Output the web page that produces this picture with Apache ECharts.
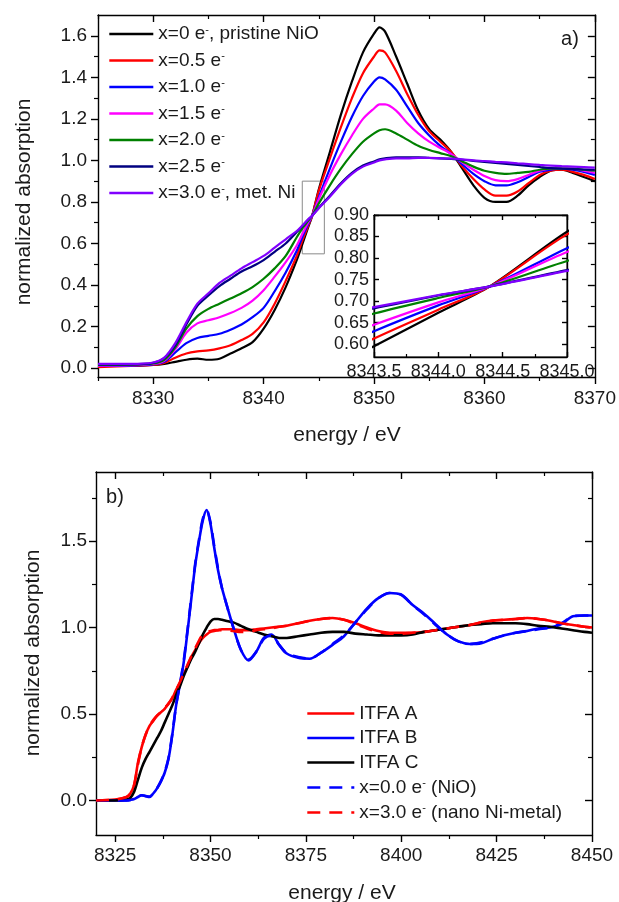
<!DOCTYPE html>
<html><head><meta charset="utf-8">
<script src="https://cdn.jsdelivr.net/npm/echarts/dist/echarts.min.js"></script>
<style>html,body{margin:0;padding:0;background:#fff}#c{width:619px;height:902px}</style>
</head><body><div id="c"></div>
<script>
// ---------- Panel a) data ----------
const energyA = [8325, 8328, 8330, 8331, 8332, 8333, 8334, 8335, 8336, 8337, 8338, 8339, 8340, 8341, 8342, 8343, 8343.5, 8344, 8344.4, 8345, 8346, 8347, 8348, 8349, 8350, 8350.5, 8351, 8352, 8353, 8354, 8355, 8356, 8357, 8358, 8359, 8360, 8361, 8362, 8363, 8364, 8365, 8366, 8367, 8368, 8369, 8370];
const absX00 = [0.012, 0.012, 0.015, 0.02, 0.03, 0.04, 0.045, 0.04, 0.045, 0.07, 0.095, 0.125, 0.19, 0.28, 0.39, 0.52, 0.595, 0.673, 0.734, 0.861, 1.04, 1.22, 1.38, 1.52, 1.61, 1.64, 1.62, 1.50, 1.37, 1.24, 1.15, 1.10, 1.04, 0.96, 0.88, 0.82, 0.80, 0.80, 0.83, 0.88, 0.92, 0.95, 0.955, 0.94, 0.92, 0.90];
const absX05 = [0.005, 0.01, 0.015, 0.025, 0.05, 0.07, 0.08, 0.085, 0.095, 0.11, 0.135, 0.165, 0.22, 0.31, 0.42, 0.54, 0.613, 0.68, 0.734, 0.855, 1.01, 1.16, 1.30, 1.42, 1.50, 1.53, 1.52, 1.43, 1.32, 1.22, 1.14, 1.09, 1.04, 0.97, 0.91, 0.86, 0.83, 0.83, 0.85, 0.89, 0.93, 0.95, 0.955, 0.945, 0.93, 0.91];
const absX10 = [0.01, 0.012, 0.018, 0.03, 0.075, 0.12, 0.145, 0.155, 0.165, 0.185, 0.21, 0.245, 0.29, 0.37, 0.46, 0.565, 0.630, 0.69, 0.734, 0.823, 0.96, 1.09, 1.21, 1.31, 1.38, 1.40, 1.39, 1.34, 1.26, 1.18, 1.12, 1.07, 1.03, 0.98, 0.935, 0.90, 0.88, 0.88, 0.895, 0.92, 0.945, 0.955, 0.96, 0.955, 0.945, 0.93];
const absX15 = [0.012, 0.014, 0.02, 0.035, 0.09, 0.17, 0.215, 0.23, 0.245, 0.265, 0.29, 0.325, 0.375, 0.44, 0.51, 0.59, 0.645, 0.697, 0.734, 0.814, 0.93, 1.03, 1.12, 1.20, 1.25, 1.27, 1.27, 1.24, 1.18, 1.13, 1.09, 1.06, 1.03, 0.99, 0.955, 0.925, 0.905, 0.90, 0.91, 0.93, 0.95, 0.96, 0.96, 0.96, 0.95, 0.94];
const absX20 = [0.015, 0.016, 0.022, 0.04, 0.10, 0.19, 0.25, 0.285, 0.31, 0.335, 0.36, 0.39, 0.43, 0.48, 0.54, 0.63, 0.671, 0.707, 0.734, 0.793, 0.88, 0.96, 1.03, 1.09, 1.13, 1.145, 1.15, 1.13, 1.10, 1.07, 1.05, 1.035, 1.02, 0.995, 0.97, 0.95, 0.94, 0.935, 0.94, 0.945, 0.955, 0.96, 0.96, 0.96, 0.955, 0.95];
const absX25 = [0.018, 0.018, 0.025, 0.048, 0.11, 0.21, 0.30, 0.35, 0.395, 0.43, 0.465, 0.49, 0.52, 0.56, 0.60, 0.655, 0.683, 0.713, 0.734, 0.772, 0.83, 0.89, 0.94, 0.975, 0.995, 1.005, 1.01, 1.015, 1.015, 1.015, 1.012, 1.01, 1.007, 1.003, 0.998, 0.993, 0.988, 0.983, 0.978, 0.973, 0.968, 0.963, 0.96, 0.958, 0.956, 0.955];
const absX30 = [0.02, 0.02, 0.027, 0.05, 0.12, 0.22, 0.31, 0.36, 0.41, 0.445, 0.48, 0.51, 0.54, 0.58, 0.62, 0.66, 0.686, 0.714, 0.734, 0.770, 0.825, 0.885, 0.935, 0.97, 0.99, 1.0, 1.005, 1.01, 1.01, 1.012, 1.012, 1.01, 1.008, 1.005, 1.0, 0.997, 0.993, 0.99, 0.986, 0.982, 0.978, 0.975, 0.972, 0.97, 0.968, 0.965];
const namesA = ['x=0 e⁻, pristine NiO', 'x=0.5 e⁻', 'x=1.0 e⁻', 'x=1.5 e⁻', 'x=2.0 e⁻', 'x=2.5 e⁻', 'x=3.0 e⁻, met. Ni'];
const colorsA = ['#000000', '#ff0000', '#0000ff', '#ff00ff', '#008000', '#000080', '#8000ff'];
const xTicksA = [8330, 8340, 8350, 8360, 8370];
const xMinorA = [8325, 8335, 8345, 8355, 8365];
const yTicksA = [0, 0.2, 0.4, 0.6, 0.8, 1.0, 1.2, 1.4, 1.6];
const yMinorA = [0.1, 0.3, 0.5, 0.7, 0.9, 1.1, 1.3, 1.5];
const insetXTicks = [8343.5, 8344.0, 8344.5, 8345.0];
const insetXMinor = [8343.75, 8344.25, 8344.75];
const insetYTicks = [0.60, 0.65, 0.70, 0.75, 0.80, 0.85, 0.90];
const zoomBoxX = [8343.5, 8345.5];
const zoomBoxY = [0.55, 0.90];

// ---------- Panel b) data ----------
const energyB = [8320, 8325, 8328, 8329, 8330, 8331, 8332, 8333, 8334, 8335, 8336, 8337, 8338, 8339, 8340, 8341, 8342, 8343, 8344, 8345, 8346, 8347, 8348, 8349, 8350, 8351, 8352, 8353, 8354, 8356, 8358, 8360, 8362, 8364, 8366, 8368, 8370, 8373, 8376, 8379, 8382, 8385, 8388, 8391, 8394, 8397, 8400, 8403, 8406, 8409, 8412, 8415, 8418, 8421, 8424, 8427, 8430, 8433, 8436, 8439, 8442, 8445, 8448, 8450];
const itfaA = [0, 0.005, 0.02, 0.04, 0.09, 0.22, 0.31, 0.38, 0.43, 0.46, 0.49, 0.51, 0.53, 0.56, 0.59, 0.64, 0.68, 0.73, 0.78, 0.83, 0.87, 0.91, 0.94, 0.96, 0.975, 0.98, 0.985, 0.99, 0.99, 0.99, 0.985, 0.985, 0.99, 0.995, 1.0, 1.005, 1.01, 1.025, 1.04, 1.05, 1.055, 1.045, 1.025, 1.0, 0.98, 0.97, 0.97, 0.97, 0.975, 0.985, 0.995, 1.005, 1.015, 1.03, 1.04, 1.045, 1.05, 1.055, 1.05, 1.04, 1.025, 1.015, 1.005, 1.0];
const itfaB = [0, 0, 0, 0.003, 0.008, 0.02, 0.03, 0.025, 0.02, 0.04, 0.07, 0.11, 0.16, 0.24, 0.38, 0.55, 0.67, 0.80, 0.98, 1.17, 1.36, 1.50, 1.62, 1.68, 1.60, 1.46, 1.33, 1.23, 1.15, 1.0, 0.87, 0.81, 0.86, 0.94, 0.96, 0.90, 0.85, 0.825, 0.82, 0.855, 0.90, 0.95, 1.03, 1.11, 1.17, 1.20, 1.19, 1.13, 1.08, 1.02, 0.96, 0.92, 0.905, 0.91, 0.935, 0.955, 0.97, 0.98, 0.995, 1.0, 1.02, 1.065, 1.07, 1.07];
const itfaC = [0, 0, 0.005, 0.015, 0.05, 0.12, 0.19, 0.24, 0.28, 0.32, 0.36, 0.40, 0.45, 0.50, 0.55, 0.61, 0.66, 0.72, 0.77, 0.82, 0.86, 0.91, 0.96, 1.0, 1.035, 1.05, 1.05, 1.045, 1.04, 1.03, 1.01, 0.99, 0.975, 0.96, 0.95, 0.94, 0.94, 0.95, 0.96, 0.97, 0.975, 0.975, 0.965, 0.96, 0.955, 0.955, 0.955, 0.96, 0.975, 0.985, 0.995, 1.005, 1.015, 1.02, 1.025, 1.025, 1.025, 1.02, 1.01, 1.005, 0.995, 0.985, 0.975, 0.97];
const refNiO = [0, 0, 0, 0.003, 0.01, 0.022, 0.03, 0.026, 0.022, 0.04, 0.07, 0.11, 0.165, 0.245, 0.385, 0.55, 0.675, 0.81, 0.99, 1.18, 1.37, 1.51, 1.63, 1.68, 1.61, 1.47, 1.34, 1.23, 1.15, 1.0, 0.87, 0.815, 0.86, 0.935, 0.955, 0.90, 0.85, 0.83, 0.82, 0.855, 0.905, 0.955, 1.03, 1.105, 1.17, 1.20, 1.19, 1.13, 1.075, 1.015, 0.96, 0.92, 0.905, 0.915, 0.935, 0.955, 0.97, 0.98, 0.99, 1.0, 1.025, 1.065, 1.07, 1.07];
const refNiMetal = [0, 0.005, 0.02, 0.04, 0.09, 0.21, 0.31, 0.38, 0.43, 0.465, 0.49, 0.51, 0.535, 0.56, 0.595, 0.64, 0.685, 0.735, 0.785, 0.835, 0.88, 0.925, 0.96, 0.975, 0.98, 0.985, 0.985, 0.985, 0.985, 0.98, 0.975, 0.975, 0.985, 0.99, 0.995, 1.005, 1.01, 1.025, 1.04, 1.05, 1.055, 1.045, 1.02, 0.995, 0.975, 0.965, 0.965, 0.97, 0.975, 0.985, 0.995, 1.005, 1.015, 1.03, 1.04, 1.045, 1.05, 1.055, 1.05, 1.04, 1.025, 1.015, 1.005, 1.0];
const namesB = ['ITFA A', 'ITFA B', 'ITFA C', 'x=0.0 e⁻ (NiO)', 'x=3.0 e⁻ (nano Ni-metal)'];
const colorsB = ['#ff0000', '#0000ff', '#000000', '#0000ff', '#ff0000'];
const xTicksB = [8325, 8350, 8375, 8400, 8425, 8450];
const xMinorB = [8337.5, 8362.5, 8387.5, 8412.5, 8437.5];
const yTicksB = [0, 0.5, 1.0, 1.5];
const yMinorB = [0.25, 0.75, 1.25, 1.75];

// ---------- build ----------
const FONT = '"Liberation Sans", Arial, sans-serif';
const TXT = '#1a1a1a';
const xAxes = [], yAxes = [];

function addAxes(list, grid, o) {
  const base = () => ({
    type: 'value', gridIndex: grid, min: o.min, max: o.max,
    splitLine: { show: false },
    axisLine: { show: true, onZero: false, lineStyle: { color: '#000', width: 1.4 } }
  });
  const mainIdx = list.length;
  const main = base();
  main.position = o.pos;
  main.axisTick = { show: true, customValues: o.majors, length: o.majorLen, inside: !!o.inside, lineStyle: { color: '#000', width: 1.4 } };
  main.axisLabel = { show: true, customValues: o.majors, formatter: o.fmt, margin: o.margin, fontSize: o.fontSize, fontFamily: FONT, color: TXT };
  list.push(main);
  if (o.minors && o.minors.length) {
    const mn = base();
    mn.position = o.pos; mn.axisLine.show = false;
    mn.axisTick = { show: true, customValues: o.minors, length: o.minorLen, inside: !!o.inside, lineStyle: { color: '#000', width: 1.2 } };
    mn.axisLabel = { show: false };
    list.push(mn);
  }
  const mr = base();
  mr.position = o.mirror;
  mr.axisTick = { show: true, customValues: o.majors, length: o.majorLen, inside: true, lineStyle: { color: '#000', width: 1.4 } };
  mr.axisLabel = { show: false };
  list.push(mr);
  if (o.minors && o.minors.length) {
    const mm = base();
    mm.position = o.mirror; mm.axisLine.show = false;
    mm.axisTick = { show: true, customValues: o.minors, length: o.minorLen, inside: true, lineStyle: { color: '#000', width: 1.2 } };
    mm.axisLabel = { show: false };
    list.push(mm);
  }
  return mainIdx;
}

const grids = [
  { left: 98, top: 15, width: 497, height: 362, show: false },
  { left: 374, top: 215, width: 193, height: 142, show: true, backgroundColor: '#fff', borderColor: '#000', borderWidth: 1 },
  { left: 96, top: 472, width: 496, height: 363, show: false }
];

const xa = addAxes(xAxes, 0, { min: 8325, max: 8370, majors: xTicksA, minors: xMinorA, pos: 'bottom', mirror: 'top', fmt: v => String(v), margin: 12, fontSize: 19, majorLen: 7, minorLen: 4 });
const ya = addAxes(yAxes, 0, { min: -0.043, max: 1.7, majors: yTicksA, minors: yMinorA, pos: 'left', mirror: 'right', fmt: v => v.toFixed(1), margin: 11, fontSize: 19, majorLen: 7, minorLen: 4 });
const xi = addAxes(xAxes, 1, { min: 8343.5, max: 8345.0, majors: insetXTicks, minors: insetXMinor, pos: 'bottom', mirror: 'top', inside: true, fmt: v => v.toFixed(1), margin: 6, fontSize: 18, majorLen: 5, minorLen: 3 });
const yi = addAxes(yAxes, 1, { min: 0.57, max: 0.90, majors: insetYTicks, minors: [], pos: 'left', mirror: 'right', inside: true, fmt: v => v.toFixed(2), margin: 5, fontSize: 18, majorLen: 5, minorLen: 3 });
const xb = addAxes(xAxes, 2, { min: 8320, max: 8450, majors: xTicksB, minors: xMinorB, pos: 'bottom', mirror: 'top', fmt: v => String(v), margin: 11, fontSize: 19, majorLen: 7, minorLen: 4 });
const yb = addAxes(yAxes, 2, { min: -0.2, max: 1.9, majors: yTicksB, minors: yMinorB, pos: 'left', mirror: 'right', fmt: v => v.toFixed(1), margin: 9, fontSize: 19, majorLen: 7, minorLen: 4 });

function pairs(xs, ys) { return xs.map((e, i) => [e, ys[i]]); }
function line(name, xs, ys, color, xIdx, yIdx, width, dashed) {
  return {
    type: 'line', name, data: pairs(xs, ys), xAxisIndex: xIdx, yAxisIndex: yIdx,
    symbol: 'none', showSymbol: false, smooth: 0.3, clip: true,
    lineStyle: { color, width, type: dashed ? [13, 9] : 'solid' },
    itemStyle: { color }
  };
}

const seriesA = [absX00, absX05, absX10, absX15, absX20, absX25, absX30];
const series = [];
seriesA.forEach((ys, i) => series.push(line(namesA[i], energyA, ys, colorsA[i], xa, ya, 2.2)));
series[0].markArea = {
  silent: true,
  itemStyle: { color: 'rgba(0,0,0,0)', borderColor: '#8a8a8a', borderWidth: 1 },
  data: [[{ coord: [zoomBoxX[0], zoomBoxY[0]] }, { coord: [zoomBoxX[1], zoomBoxY[1]] }]]
};
seriesA.forEach((ys, i) => series.push(line(namesA[i], energyA, ys, colorsA[i], xi, yi, 2.2)));
const seriesB = [itfaA, itfaB, itfaC, refNiO, refNiMetal];
seriesB.forEach((ys, i) => series.push(line(namesB[i], energyB, ys, colorsB[i], xb, yb, 2.6, i >= 3)));

const legendText = {
  fontSize: 19, fontFamily: FONT, color: TXT,
  rich: { s: { fontSize: 11, fontFamily: FONT, color: TXT, verticalAlign: 'top', lineHeight: 20 } }
};
const fmtLegend = n => n.replace('⁻', '{s|-}');

const option = {
  animation: false,
  backgroundColor: '#fff',
  grid: grids,
  xAxis: xAxes,
  yAxis: yAxes,
  legend: [
    { data: namesA, orient: 'vertical', left: 108, top: 24, itemWidth: 44, itemHeight: 20, itemGap: 7,
      itemStyle: { opacity: 0 }, lineStyle: { width: 2.6 }, textStyle: legendText, formatter: fmtLegend, selectedMode: false, padding: 0 },
    { data: namesB, orient: 'vertical', left: 306, top: 704, itemWidth: 47, itemHeight: 20, itemGap: 5.5,
      itemStyle: { opacity: 0 }, lineStyle: { width: 2.6 }, textStyle: legendText, formatter: fmtLegend, selectedMode: false, padding: 0 }
  ],
  graphic: [
    { type: 'text', x: 24, y: 202, rotation: Math.PI / 2, style: { text: 'normalized absorption', font: '21px ' + FONT, fill: TXT, align: 'center', verticalAlign: 'middle' } },
    { type: 'text', x: 347, y: 435, style: { text: 'energy / eV', font: '21px ' + FONT, fill: TXT, align: 'center', verticalAlign: 'middle' } },
    { type: 'text', x: 33, y: 653, rotation: Math.PI / 2, style: { text: 'normalized absorption', font: '21px ' + FONT, fill: TXT, align: 'center', verticalAlign: 'middle' } },
    { type: 'text', x: 342, y: 893, style: { text: 'energy / eV', font: '21px ' + FONT, fill: TXT, align: 'center', verticalAlign: 'middle' } },
    { type: 'text', x: 570, y: 39, style: { text: 'a)', font: '20px ' + FONT, fill: TXT, align: 'center', verticalAlign: 'middle' } },
    { type: 'text', x: 115, y: 497, style: { text: 'b)', font: '20px ' + FONT, fill: TXT, align: 'center', verticalAlign: 'middle' } }
  ],
  series
};
const chart = echarts.init(document.getElementById('c'), null, { renderer: 'canvas' });
chart.setOption(option);
</script></body></html>
